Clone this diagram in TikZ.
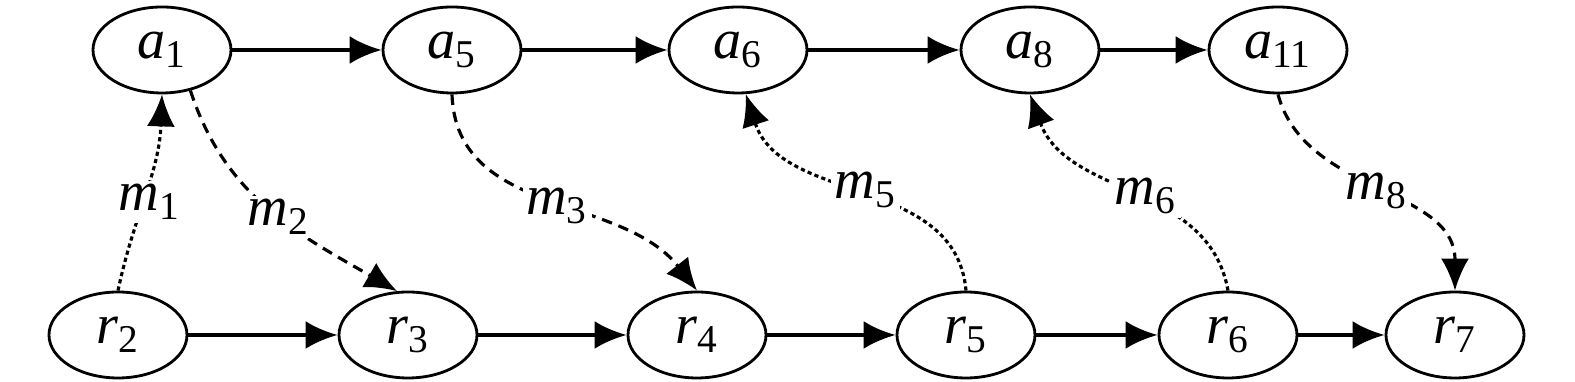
\documentclass[tikz,border=0pt]{standalone}
\usepackage{fontspec}
\setmainfont{Liberation Serif}
\usepackage{tikz}
\usetikzlibrary{shapes.geometric, arrows.meta}

\newcommand{\ix}[2]{\textit{#1}\textsubscript{#2}}

\begin{document}
\begin{tikzpicture}[>={Latex[length=3.2mm, width=2.8mm]},
    evnode/.style={draw, ellipse, line width=0.8pt, minimum width=1.38cm, minimum height=0.86cm, inner sep=0pt, font=\fontsize{16}{19}\selectfont},
    flow/.style={->, line width=1.1pt},
    dashmsg/.style={->, line width=0.9pt, dash pattern=on 3pt off 2pt},
    dotmsg/.style={->, line width=0.9pt, dash pattern=on 1.2pt off 0.9pt},
    lab/.style={fill=white, inner sep=1pt, font=\fontsize{16}{19}\selectfont}]
    \useasboundingbox (0,0) rectangle (15.75,3.82);

    % Hàng trên: các nút a
    \node[evnode] (a1) at (1.62,3.32) {\ix{a}{1}};
    \node[evnode] (a5) at (4.52,3.32) {\ix{a}{5}};
    \node[evnode] (a6) at (7.38,3.32) {\ix{a}{6}};
    \node[evnode] (a8) at (10.30,3.32) {\ix{a}{8}};
    \node[evnode] (a11) at (12.78,3.32) {\ix{a}{11}};

    % Hàng dưới: các nút r
    \node[evnode] (r2) at (1.18,0.47) {\ix{r}{2}};
    \node[evnode] (r3) at (4.08,0.47) {\ix{r}{3}};
    \node[evnode] (r4) at (6.97,0.47) {\ix{r}{4}};
    \node[evnode] (r5) at (9.66,0.47) {\ix{r}{5}};
    \node[evnode] (r6) at (12.28,0.47) {\ix{r}{6}};
    \node[evnode] (r7) at (14.55,0.47) {\ix{r}{7}};

    % Mũi tên nét liền trên mỗi hàng
    \draw[flow] (a1) -- (a5);
    \draw[flow] (a5) -- (a6);
    \draw[flow] (a6) -- (a8);
    \draw[flow] (a8) -- (a11);
    \draw[flow] (r2) -- (r3);
    \draw[flow] (r3) -- (r4);
    \draw[flow] (r4) -- (r5);
    \draw[flow] (r5) -- (r6);
    \draw[flow] (r6) -- (r7);

    % Các thông điệp m (nét chấm: r -> a, nét đứt: a -> r)
    \draw[dotmsg] (r2.north) to[out=78, in=-92] node[lab, pos=0.45, xshift=2pt] {\ix{m}{1}} (a1.south);
    \draw[dashmsg] (a1.-55) to[out=-72, in=150] node[lab, pos=0.54] {\ix{m}{2}} (r3.104);
    \draw[dashmsg] (a5.south) to[out=-88, in=128] node[lab, pos=0.53] {\ix{m}{3}} (r4.north);
    \draw[dotmsg] (r5.north) to[out=95, in=-72] node[lab, pos=0.5] {\ix{m}{5}} (a6.-80);
    \draw[dotmsg] (r6.north) to[out=100, in=-70] node[lab, pos=0.46] {\ix{m}{6}} (a8.south);
    \draw[dashmsg] (a11.south) to[out=-75, in=90] node[lab, pos=0.5] {\ix{m}{8}} (r7.north);
\end{tikzpicture}
\end{document}
